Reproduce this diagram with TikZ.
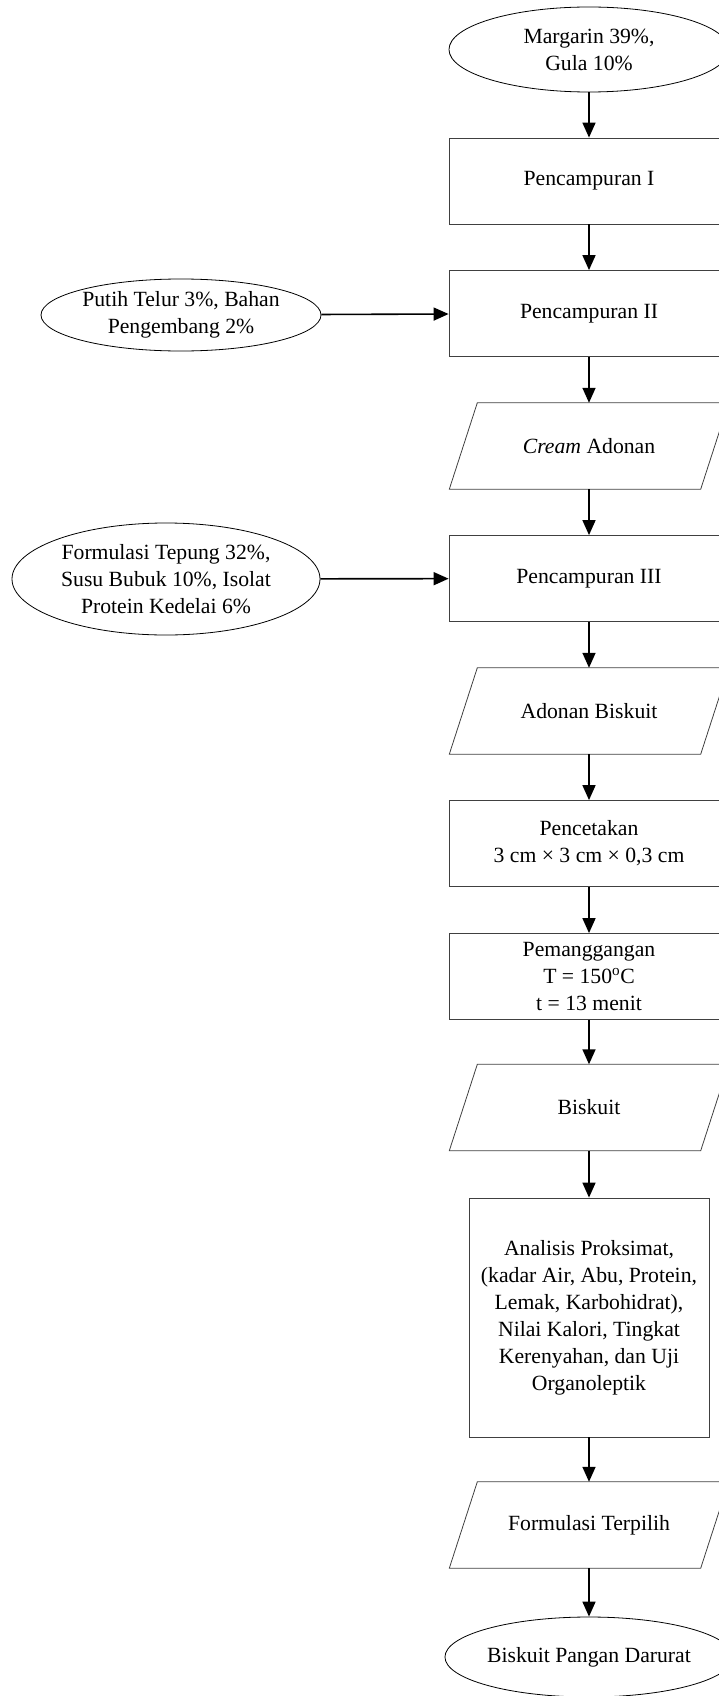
\documentclass[tikz,border=0pt]{standalone}
\usepackage{fontspec}
\setmainfont{Liberation Serif}
\usetikzlibrary{shapes.geometric,arrows.meta,positioning}

\tikzset{
 every node/.style={font=\fontsize{21.7}{27}\selectfont},
 garis/.style={draw=black!75, line width=0.8pt},
 proses/.style={garis, minimum width=280pt, minimum height=86pt, align=center, inner sep=2pt},
 bahan/.style={ellipse, draw, line width=0.8pt, align=center, inner sep=0pt},
 hasil/.style={minimum width=251pt, minimum height=86pt, align=center},
 panah/.style={-{Triangle[length=15pt,width=13pt]}, line width=1.6pt}
}
% jajar genjang di sekeliling node
\newcommand{\jajar}[1]{\draw[garis] ([xshift=14pt]#1.north west) -- ([xshift=14pt]#1.north east) -- ([xshift=-14pt]#1.south east) -- ([xshift=-14pt]#1.south west) -- cycle;}

\begin{document}
\begin{tikzpicture}[x=1pt,y=-1pt]
 \useasboundingbox (0,0) rectangle (719,1696);
 % alur utama
 \node[bahan, minimum width=280pt, minimum height=85pt] (margarin) at (589,49.5) {Margarin 39\%,\\Gula 10\%};
 \node[proses] (campur1) at (589,181) {Pencampuran I};
 \node[proses] (campur2) at (589,313.5) {Pencampuran II};
 \node[hasil] (cream) at (589,446) {\textit{Cream} Adonan};
 \node[proses] (campur3) at (589,578.5) {Pencampuran III};
 \node[hasil] (adonan) at (589,711) {Adonan Biskuit};
 \node[proses] (cetak) at (589,843.5) {Pencetakan\\3 cm × 3 cm × 0,3 cm};
 \node[proses] (panggang) at (589,976.5) {Pemanggangan\\T = 150\textsuperscript{o}C\\t = 13 menit};
 \node[hasil] (biskuit) at (589,1107.5) {Biskuit};
 \node[proses, minimum width=240pt, minimum height=239pt] (analisis) at (589,1317.5) {Analisis Proksimat,\\(kadar Air, Abu, Protein,\\Lemak, Karbohidrat),\\Nilai Kalori, Tingkat\\Kerenyahan, dan Uji\\Organoleptik};
 \node[hasil] (terpilih) at (589,1525) {Formulasi Terpilih};
 \node[bahan, minimum width=280pt, minimum height=80pt] (darurat) at (589,1657) {Biskuit Pangan Darurat};
 \jajar{cream}
 \jajar{adonan}
 \jajar{biskuit}
 \jajar{terpilih}
 % bahan tambahan
 \node[bahan, minimum width=280pt, minimum height=72pt] (putih) at (181,315) {Putih Telur 3\%, Bahan\\Pengembang 2\%};
 \node[bahan, minimum width=308pt, minimum height=112pt] (tepung) at (166,579) {Formulasi Tepung 32\%,\\Susu Bubuk 10\%, Isolat\\Protein Kedelai 6\%};

 \draw[panah] (margarin) -- (campur1);
 \draw[panah] (campur1) -- (campur2);
 \draw[panah] (campur2) -- (cream);
 \draw[panah] (cream) -- (campur3);
 \draw[panah] (campur3) -- (adonan);
 \draw[panah] (adonan) -- (cetak);
 \draw[panah] (cetak) -- (panggang);
 \draw[panah] (panggang) -- (biskuit);
 \draw[panah] (biskuit) -- (analisis);
 \draw[panah] (analisis) -- (terpilih);
 \draw[panah] (terpilih) -- (darurat);
 \draw[panah] (putih) -- (campur2);
 \draw[panah] (tepung) -- (campur3);
\end{tikzpicture}
\end{document}
